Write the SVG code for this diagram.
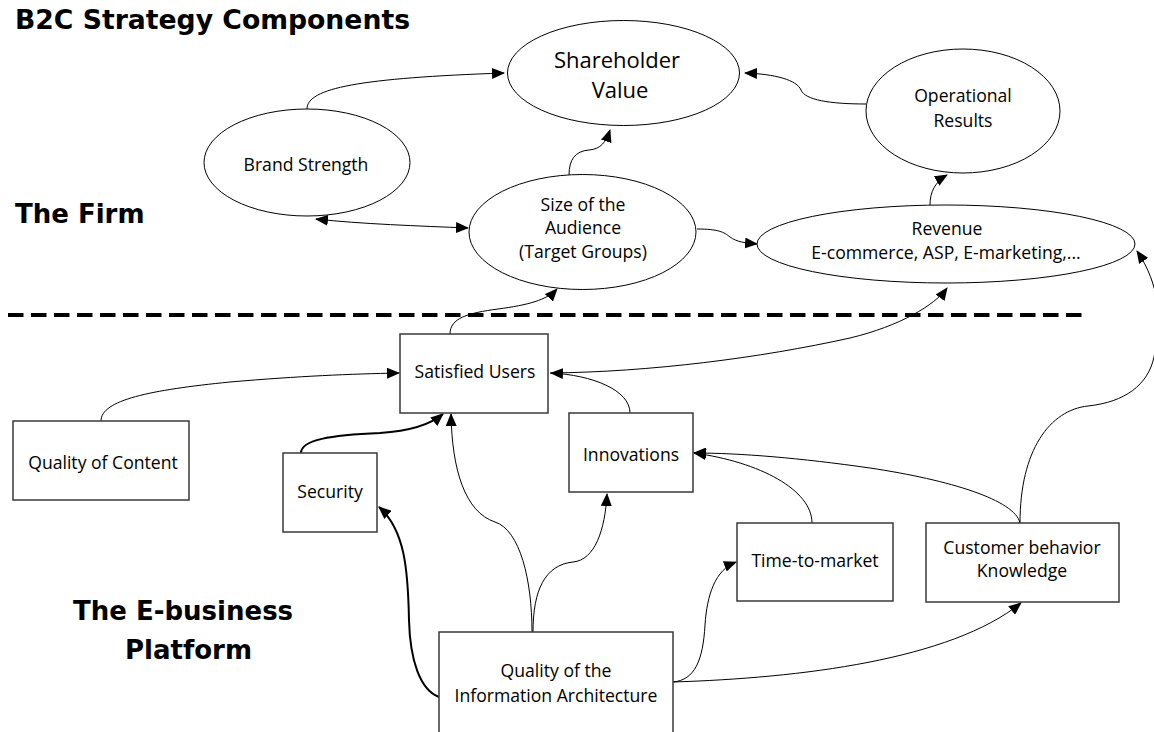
<svg xmlns="http://www.w3.org/2000/svg" width="1154" height="732" viewBox="0 0 1154 732">
<style>
  .h { font-family: "DejaVu Sans", "Liberation Sans", sans-serif; font-weight: bold; font-size: 26px; fill: #000; }
  .t { font-family: "Open Sans", "Noto Sans", "Liberation Sans", sans-serif; font-size: 17.6px; fill: #000; text-anchor: middle; }
  .big { font-size: 22px; }
  .box { fill: #fff; stroke: #3a3a3a; stroke-width: 1.5; }
  .ell { fill: #fff; stroke: #000; stroke-width: 1; }
  .c { fill: none; stroke: #000; stroke-width: 1; marker-end: url(#ah); }
  .c2 { stroke-width: 2; }
</style>
<defs>
  <marker id="ah" viewBox="0 0 13 11" refX="12" refY="5.5" markerWidth="13" markerHeight="11" markerUnits="userSpaceOnUse" orient="auto-start-reverse">
    <path d="M0,0 L13,5.5 L0,11 z" fill="#000"/>
  </marker>
</defs>
<rect width="1154" height="732" fill="#fff"/>

<text class="h" x="15" y="29" textLength="395" lengthAdjust="spacingAndGlyphs">B2C Strategy Components</text>
<text class="h" x="15" y="223">The Firm</text>
<text class="h" x="73" y="620">The E-business</text>
<text class="h" x="125" y="659">Platform</text>

<line x1="8" y1="315" x2="1088" y2="315" stroke="#000" stroke-width="4" stroke-dasharray="15.5,7.5"/>

<g id="connectors">
  <path class="c" d="M307,109 C307,88 360,78 504,73"/>
  <path class="c" d="M569,175 C569,160 575,151 589,150 C601,149 606,142 610,130"/>
  <path class="c" d="M866,104 C830,104 805,100 801,90 C797,80 775,74 745,73"/>
  <path class="c" d="M930,205 C930,192 935,182 947,175"/>
  <path class="c" d="M468,228 C420,226 360,224 316,219" style="marker-start:url(#ah)"/>
  <path class="c" d="M697,229 C718,229 724,232 730,237 C737,242 745,243 757,244"/>
  <path class="c" d="M450,334 C450,318 468,313 498,309 C528,305 547,300 557,289"/>
  <path class="c" d="M550,373 C650,372 760,358 850,338 C900,326 935,305 947,288"/>
  <path class="c" d="M630,413 C630,390 592,375 551,373"/>
  <path class="c" d="M101,421 C101,400 150,390 230,382 C300,376 350,374 399,373"/>
  <path class="c c2" d="M301,453 C301,440 330,435 380,433 C410,431 430,425 443,414"/>
  <path class="c" d="M532,632 C532,580 520,530 495,522 C465,512 452,470 451,414"/>
  <path class="c" d="M533,632 C533,590 545,565 573,562 C595,560 605,530 607,494"/>
  <path class="c c2" d="M439,697 C420,690 410,660 409,620 C408,570 405,530 379,507"/>
  <path class="c" d="M673,682 C695,680 703,660 705,625 C707,595 715,570 736,562"/>
  <path class="c" d="M673,682 C800,678 950,660 1021,603"/>
  <path class="c" d="M1020,523 C1015,500 950,480 870,468 C800,458 740,453 694,453"/>
  <path class="c" d="M812,523 C812,490 760,462 694,453"/>
  <path class="c" d="M1020,523 C1020,450 1050,410 1088,406 C1125,402 1148,385 1154,357 C1162,320 1160,285 1137,251"/>
</g>

<g id="shareholder-value">
  <ellipse class="ell" cx="623.5" cy="73" rx="116" ry="52.5" stroke-width="5"/>
  <text class="t big" x="617" y="68">Shareholder</text>
  <text class="t big" x="620" y="98">Value</text>
</g>
<g id="brand-strength">
  <ellipse class="ell" cx="307" cy="162.5" rx="103" ry="53.5"/>
  <text class="t" x="306" y="171">Brand Strength</text>
</g>
<g id="size-of-audience">
  <ellipse class="ell" cx="582.5" cy="232" rx="113.5" ry="57.5"/>
  <text class="t" x="583" y="211">Size of the</text>
  <text class="t" x="583" y="234">Audience</text>
  <text class="t" x="583" y="258">(Target Groups)</text>
</g>
<g id="operational-results">
  <ellipse class="ell" cx="963" cy="111" rx="97" ry="62"/>
  <text class="t" x="963" y="102">Operational</text>
  <text class="t" x="963" y="127">Results</text>
</g>
<g id="revenue">
  <ellipse class="ell" cx="946" cy="244" rx="189" ry="39" stroke-width="2"/>
  <text class="t" x="947" y="235">Revenue</text>
  <text class="t" x="946" y="259">E-commerce, ASP, E-marketing,...</text>
</g>
<g id="satisfied-users">
  <rect class="box" x="400" y="334" width="148" height="79"/>
  <text class="t" x="475" y="378">Satisfied Users</text>
</g>
<g id="quality-of-content">
  <rect class="box" x="13" y="421" width="176" height="79"/>
  <text class="t" x="103" y="469">Quality of Content</text>
</g>
<g id="security">
  <rect class="box" x="283" y="453" width="94" height="79"/>
  <text class="t" x="330" y="498">Security</text>
</g>
<g id="innovations">
  <rect class="box" x="569" y="413" width="124" height="79"/>
  <text class="t" x="631" y="461">Innovations</text>
</g>
<g id="time-to-market">
  <rect class="box" x="737" y="523" width="156" height="78"/>
  <text class="t" x="815" y="567">Time-to-market</text>
</g>
<g id="customer-behavior">
  <rect class="box" x="926" y="523" width="193" height="79"/>
  <text class="t" x="1022" y="554">Customer behavior</text>
  <text class="t" x="1022" y="577">Knowledge</text>
</g>
<g id="information-architecture">
  <rect class="box" x="439" y="632" width="234" height="110"/>
  <text class="t" x="556" y="677">Quality of the</text>
  <text class="t" x="556" y="702">Information Architecture</text>
</g>
</svg>
